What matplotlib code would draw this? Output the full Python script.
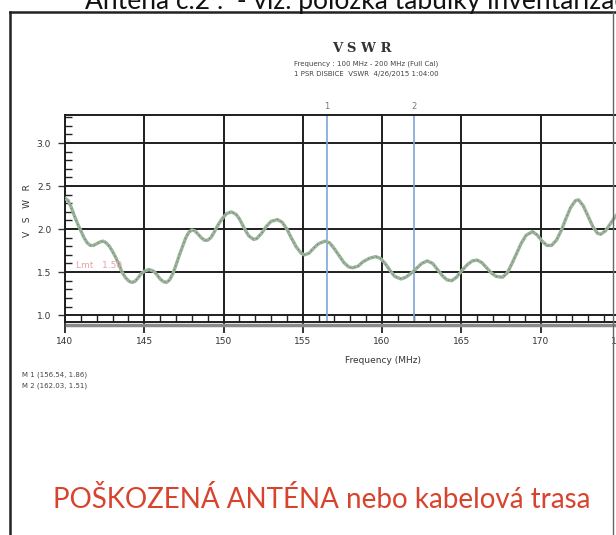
import matplotlib
matplotlib.use('Agg')
import matplotlib.pyplot as plt
from matplotlib.ticker import MultipleLocator

# VSWR trace
freq = [140.0, 140.2, 140.4, 140.6, 140.8, 141.0, 141.2, 141.4, 141.6, 141.8,
        142.0, 142.2, 142.4, 142.6, 142.8, 143.0, 143.2, 143.4, 143.6, 143.8,
        144.0, 144.2, 144.4, 144.6, 144.8, 145.0, 145.3, 145.6, 145.8, 146.0,
        146.2, 146.4, 146.6, 146.8, 147.0, 147.2, 147.4, 147.6, 147.8, 148.0,
        148.2, 148.4, 148.6, 148.8, 149.0, 149.2, 149.4, 149.6, 149.8, 150.0,
        150.2, 150.5, 150.8, 151.0, 151.2, 151.4, 151.6, 151.9, 152.1, 152.4,
        152.7, 153.0, 153.4, 153.7, 154.0, 154.3, 154.6, 154.9, 155.1, 155.4,
        155.7, 156.0, 156.4, 156.7, 157.0, 157.3, 157.6, 157.9, 158.15, 158.5,
        158.8, 159.2, 159.6, 159.9, 160.2, 160.5, 160.8, 161.2, 161.5, 161.8,
        162.1, 162.5, 162.85, 163.2, 163.5, 163.8, 164.1, 164.4, 164.7, 165.0,
        165.4, 165.7, 166.0, 166.3, 166.6, 166.9, 167.2, 167.6, 167.9, 168.2,
        168.5, 168.8, 169.1, 169.5, 169.8, 170.1, 170.4, 170.7, 171.0, 171.3,
        171.6, 171.9, 172.2, 172.4, 172.7, 173.0, 173.3, 173.6, 173.8, 174.1,
        174.4, 174.7, 175.0, 175.3]
vswr = [2.36, 2.33, 2.25, 2.15, 2.06, 1.98, 1.90, 1.84, 1.81, 1.81,
        1.83, 1.85, 1.86, 1.84, 1.80, 1.74, 1.67, 1.59, 1.50, 1.44,
        1.40, 1.38, 1.39, 1.43, 1.48, 1.51, 1.53, 1.51, 1.47, 1.42,
        1.39, 1.38, 1.41, 1.48, 1.58, 1.69, 1.79, 1.89, 1.96, 1.99,
        1.98, 1.94, 1.90, 1.87, 1.87, 1.90, 1.96, 2.03, 2.09, 2.14,
        2.18, 2.20, 2.17, 2.12, 2.05, 1.98, 1.92, 1.88, 1.89, 1.95,
        2.03, 2.09, 2.11, 2.08, 2.00, 1.89, 1.79, 1.72, 1.70, 1.72,
        1.78, 1.83, 1.86, 1.84, 1.77, 1.69, 1.61, 1.56, 1.55, 1.57,
        1.62, 1.66, 1.68, 1.66, 1.60, 1.52, 1.45, 1.42, 1.44, 1.48,
        1.53, 1.60, 1.63, 1.60, 1.53, 1.46, 1.41, 1.40, 1.44, 1.51,
        1.59, 1.63, 1.64, 1.61, 1.55, 1.49, 1.45, 1.44, 1.49, 1.60,
        1.72, 1.84, 1.93, 1.97, 1.93, 1.86, 1.81, 1.81, 1.87, 1.98,
        2.12, 2.25, 2.33, 2.34, 2.27, 2.15, 2.03, 1.95, 1.94, 1.98,
        2.06, 2.14, 2.21, 2.26]

markerNames = ['1', '2']
markerFreq = [156.54, 162.03]
markerVswr = [1.86, 1.51]
limitValue = 1.50

W, H = 616, 535
fig = plt.figure(figsize=(W / 100, H / 100), dpi=100)


def px(x, y):
    """ Pixel position (from top-left) to figure fraction. """
    return x / W, 1 - y / H


# frame of the scanned page
fig.add_artist(plt.Line2D([10 / W, 10 / W], [0, 1 - 12 / H], color='#222222', lw=1.8))
fig.add_artist(plt.Line2D([10 / W, 1], [1 - 12 / H, 1 - 12 / H], color='#222222', lw=1.8))
fig.add_artist(plt.Line2D([613 / W, 613 / W], [0, 1 - 12 / H], color='#666666', lw=1.0))

# heading, cut by the top of the scan
fig.text(85 / W, 1 - 9 / H, 'Anténa č.2 :  - viz. položka tabulky inventarizace',
         fontsize=19, family='Lato', color='#111111', va='baseline', ha='left')

# plot area runs past the right edge of the page
ax = fig.add_axes([65 / W, (H - 322) / H, 634 / W, 207 / H])
ax.plot(freq, vswr, color='#9ab39a', lw=2.4, solid_capstyle='round', zorder=3)
ax.plot(freq, vswr, color='#333333', lw=0.6, ls=(0, (1, 4)), alpha=0.6, zorder=4)

ax.set_xlim(140, 180)
ax.set_ylim(0.92, 3.326)
ax.xaxis.set_major_locator(MultipleLocator(5))
ax.xaxis.set_minor_locator(MultipleLocator(1))
ax.yaxis.set_major_locator(MultipleLocator(0.5))
ax.yaxis.set_minor_locator(MultipleLocator(0.1))
ax.grid(True, which='major', color='#1e1e1e', lw=1.4)
ax.set_axisbelow(True)
for s in ax.spines.values():
    s.set_color('#1e1e1e')
    s.set_linewidth(1.4)
ax.tick_params(axis='x', which='major', direction='out', length=8, width=1.4,
               labelsize=6.5, pad=3, colors='#333333')
ax.tick_params(axis='x', which='minor', direction='in', length=5, width=1.0, color='#222222')
ax.tick_params(axis='y', which='major', direction='out', length=5, width=1.0,
               labelsize=6.5, pad=5, colors='#333333')
ax.tick_params(axis='y', which='minor', direction='in', length=5, width=1.0, color='#222222')
ax.set_xticklabels(['%d' % v for v in ax.get_xticks()])
ax.set_yticklabels(['%.1f' % v for v in ax.get_yticks()])

# gray band under the frequency axis
ax.axhline(0.88, color='#8a8a8a', lw=2.5, clip_on=False, xmin=0.003)

# limit line label
ax.text(140.7, limitValue + 0.02, 'Lmt   1.50', color='#e8a0aa', fontsize=6.5,
        va='bottom', ha='left')

# marker lines
for name, f in zip(markerNames, markerFreq):
    ax.axvline(f, color='#7fa6d6', lw=1.2, zorder=2)
    ax.text(f, 3.326 + 0.1, name, fontsize=6, color='#777777', ha='center', va='center')

ax.set_xlabel('Frequency (MHz)', fontsize=6.5, color='#333333')
ax.set_ylabel('V   S   W   R', fontsize=6.5, color='#333333')
ax.xaxis.set_label_coords((383 - 65) / 634, -(356 - 322) / 207)
ax.yaxis.set_label_coords(-(65 - 32) / 634, (322 - 211) / 207)

# chart titles
fig.text(*px(362, 48), 'V S W R', fontsize=9.5, family='DejaVu Serif', fontweight='bold',
         color='#333333', ha='center', va='center')
fig.text(*px(366, 64), 'Frequency : 100 MHz - 200 MHz (Full Cal)', fontsize=5,
         color='#444444', ha='center', va='center')
fig.text(*px(366, 74), '1 PSR DISBICE  VSWR  4/26/2015 1:04:00', fontsize=5,
         color='#444444', ha='center', va='center')

# marker readout
for i in range(len(markerNames)):
    fig.text(*px(22, 375 + 11 * i), 'M %s (%.2f, %.2f)' % (markerNames[i], markerFreq[i], markerVswr[i]),
             fontsize=5, color='#444444', ha='left', va='center')

# conclusion
fig.text(*px(322, 499), 'POŠKOZENÁ ANTÉNA nebo kabelová trasa', fontsize=20, family='Lato',
         color='#d8432e', ha='center', va='center')

fig.savefig('out.png', dpi=100)
